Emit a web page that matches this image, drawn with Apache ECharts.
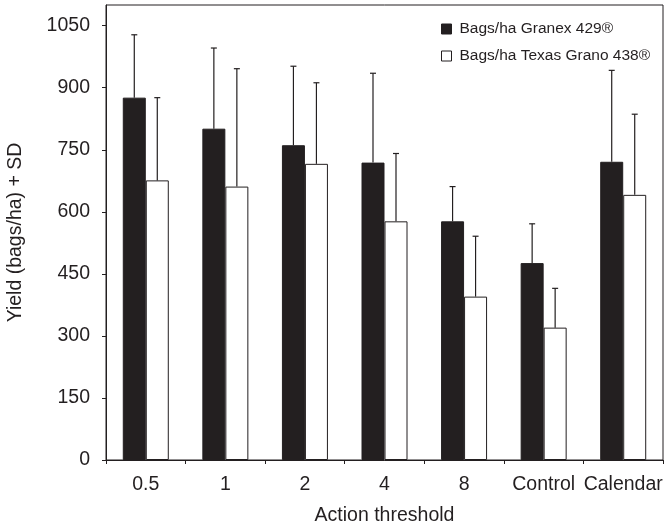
<!DOCTYPE html>
<html>
<head>
<meta charset="UTF-8">
<title>yield</title>
<script type="text/javascript" src="https://cdn.jsdelivr.net/npm/echarts@6/dist/echarts.min.js"></script>
<style>
body { margin: 0; background: #fff; }
</style>
</head>
<body>
<div id="main" style="width: 670px; height: 530px"></div>

<script type="text/javascript">
	// data
	var thresholds = ['0.5', '1', '2', '4', '8', 'Control', 'Calendar'];
	var granex = [876, 801, 761, 719, 577, 476, 721];
	var granexSd = [152, 195, 191, 216, 84, 95, 221];
	var texas = [676, 661, 716, 577, 395, 320, 641];
	var texasSd = [200, 285, 196, 164, 146, 95, 195];
	var yTicks = [0, 150, 300, 450, 600, 750, 900, 1050];

	var ink = '#231f20';
	var font = '"Liberation Sans", Arial, sans-serif';
	var barW = 23;

	// error bar (value up to value + sd) with a small cap, shifted onto one bar
	function errorBar(vals, sds, shift) {
		return {
			type: 'custom',
			silent: true,
			z: 5,
			data: vals.map(function (v, i) { return [i, v, v + sds[i]]; }),
			renderItem: function (params, api) {
				var lo = api.coord([api.value(0), api.value(1)]);
				var hi = api.coord([api.value(0), api.value(2)]);
				var x = lo[0] + shift;
				var st = { stroke: ink, lineWidth: 1.2 };
				return {
					type: 'group',
					children: [
						{ type: 'line', shape: { x1: x, y1: lo[1], x2: x, y2: hi[1] }, style: st },
						{ type: 'line', shape: { x1: x - 3, y1: hi[1], x2: x + 3, y2: hi[1] }, style: st }
					]
				};
			}
		};
	}

	var mychart = echarts.init(document.getElementById('main'));
	var option = {
		animation: false,
		textStyle: { fontFamily: font, color: ink },
		grid: {
			left: 106, right: 7, top: 5, bottom: 70,
			outerBoundsMode: 'none',
			containLabel: false,
			show: true, borderColor: ink, borderWidth: 1
		},
		legend: {
			orient: 'vertical',
			left: 441, top: 21,
			padding: 0,
			itemWidth: 10, itemHeight: 10, itemGap: 11,
			icon: 'rect',
			textStyle: { fontSize: 15.5, color: ink, fontFamily: font, padding: [0, 0, 0, 3] },
			data: [
				{ name: 'Bags/ha Granex 429®', itemStyle: { color: ink, borderColor: ink, borderWidth: 1 } },
				{ name: 'Bags/ha Texas Grano 438®', itemStyle: { color: '#fff', borderColor: ink, borderWidth: 1 } }
			]
		},
		xAxis: {
			type: 'category',
			data: thresholds,
			name: 'Action threshold',
			nameLocation: 'middle',
			nameGap: 46,
			nameTextStyle: { fontSize: 19.5, color: ink, fontFamily: font },
			axisLine: { lineStyle: { color: ink, width: 1 } },
			axisTick: { show: true, length: 4, lineStyle: { color: ink } },
			axisLabel: { fontSize: 19.5, color: ink, fontFamily: font, margin: 15, interval: 0 },
			splitLine: { show: false }
		},
		yAxis: {
			type: 'value',
			min: 0,
			max: 1100,
			name: 'Yield (bags/ha) + SD',
			nameLocation: 'middle',
			nameGap: 80,
			nameTextStyle: { fontSize: 19.5, color: ink, fontFamily: font },
			axisLine: { show: true, lineStyle: { color: ink, width: 1 } },
			axisTick: { show: true, length: 4, lineStyle: { color: ink }, customValues: yTicks },
			axisLabel: {
				fontSize: 19.5, color: ink, fontFamily: font, margin: 16, customValues: yTicks,
				formatter: function (v) { return String(v); }
			},
			splitLine: { show: false }
		},
		series: [{
			name: 'Bags/ha Granex 429®',
			type: 'bar',
			barWidth: barW,
			barGap: '0%',
			itemStyle: { color: ink, borderColor: ink, borderWidth: 1 },
			data: granex
		},
		{
			name: 'Bags/ha Texas Grano 438®',
			type: 'bar',
			barWidth: barW,
			barGap: '0%',
			itemStyle: { color: '#fff', borderColor: ink, borderWidth: 1 },
			data: texas
		},
		errorBar(granex, granexSd, -barW / 2),
		errorBar(texas, texasSd, barW / 2)
		]
	};
	mychart.setOption(option);
</script>
</body>
</html>
